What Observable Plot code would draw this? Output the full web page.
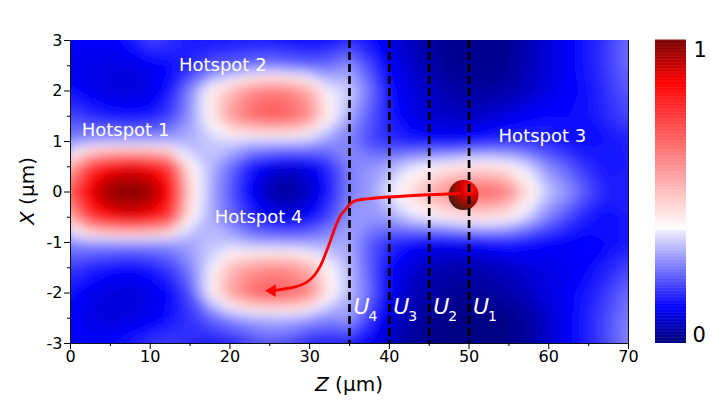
<!DOCTYPE html>
<html><head><meta charset="utf-8">
<script src="https://cdn.jsdelivr.net/npm/d3@7"></script>
<script src="https://cdn.jsdelivr.net/npm/@observablehq/plot@0.6"></script>
<style>
body{margin:0;background:#fff;font-family:"DejaVu Sans",sans-serif;}
#wrap{position:relative;width:711px;height:408px;overflow:hidden;}
#main{position:absolute;left:0;top:0;}
#cbar{position:absolute;left:640px;top:0;}
</style></head><body>
<div id="wrap"><div id="main"></div><div id="cbar"></div></div>
<script>
// ---- grid of normalized intensity ----
const zGrid = [0,2.5,5,7.5,10,12.5,15,17.5,20,22.5,25,27.5,30,32.5,35,37.5,40,42.5,45,47.5,50,52.5,55,57.5,60,62.5,65,67.5,70];
const xGrid = [3,2.5,2,1.5,1,0.5,0,-0.5,-1,-1.5,-2,-2.5,-3];
const rowP30 = [0.12,0.12,0.12,0.15,0.20,0.18,0.15,0.14,0.15,0.15,0.15,0.14,0.13,0.14,0.17,0.14,0.10,0.07,0.04,0.02,0.02,0.02,0.03,0.06,0.09,0.12,0.15,0.19,0.24];
const rowP25 = [0.11,0.10,0.10,0.10,0.11,0.13,0.17,0.21,0.22,0.24,0.25,0.24,0.23,0.24,0.28,0.20,0.12,0.08,0.05,0.03,0.02,0.02,0.03,0.06,0.09,0.12,0.15,0.19,0.24];
const rowP20 = [0.14,0.11,0.09,0.09,0.10,0.15,0.27,0.41,0.51,0.60,0.64,0.62,0.54,0.38,0.34,0.25,0.14,0.10,0.07,0.05,0.04,0.04,0.05,0.07,0.10,0.12,0.14,0.18,0.22];
const rowP15 = [0.20,0.17,0.15,0.14,0.15,0.19,0.28,0.41,0.57,0.66,0.70,0.68,0.60,0.41,0.30,0.22,0.15,0.11,0.08,0.07,0.07,0.08,0.10,0.12,0.13,0.13,0.14,0.17,0.20];
const rowP10 = [0.27,0.29,0.30,0.30,0.30,0.30,0.31,0.34,0.35,0.33,0.33,0.33,0.32,0.28,0.26,0.20,0.17,0.15,0.14,0.13,0.14,0.16,0.17,0.17,0.16,0.14,0.13,0.14,0.16];
const rowP05 = [0.54,0.76,0.86,0.89,0.86,0.76,0.41,0.32,0.24,0.15,0.10,0.08,0.10,0.17,0.26,0.28,0.31,0.36,0.39,0.42,0.44,0.44,0.41,0.35,0.27,0.22,0.17,0.14,0.15];
const row000 = [0.70,0.90,0.99,1.00,0.98,0.86,0.46,0.31,0.22,0.12,0.05,0.03,0.07,0.15,0.26,0.29,0.37,0.45,0.54,0.62,0.67,0.68,0.62,0.44,0.33,0.28,0.21,0.16,0.16];
const rowN05 = [0.54,0.76,0.86,0.89,0.86,0.76,0.41,0.31,0.24,0.17,0.12,0.10,0.13,0.20,0.28,0.28,0.30,0.35,0.38,0.41,0.44,0.44,0.41,0.34,0.26,0.20,0.15,0.13,0.15];
const rowN10 = [0.27,0.28,0.28,0.28,0.28,0.28,0.30,0.33,0.33,0.30,0.29,0.29,0.29,0.30,0.30,0.22,0.17,0.14,0.12,0.12,0.12,0.14,0.15,0.14,0.13,0.12,0.12,0.13,0.15];
const rowN15 = [0.19,0.16,0.14,0.13,0.15,0.19,0.26,0.37,0.51,0.57,0.60,0.59,0.53,0.39,0.32,0.22,0.13,0.09,0.06,0.05,0.05,0.06,0.07,0.09,0.10,0.11,0.13,0.16,0.20];
const rowN20 = [0.14,0.11,0.09,0.09,0.10,0.13,0.21,0.39,0.56,0.66,0.70,0.68,0.62,0.42,0.32,0.24,0.12,0.07,0.05,0.03,0.03,0.04,0.05,0.07,0.10,0.12,0.15,0.19,0.24];
const rowN25 = [0.12,0.10,0.09,0.10,0.11,0.14,0.18,0.23,0.27,0.30,0.31,0.31,0.29,0.27,0.29,0.19,0.09,0.05,0.03,0.02,0.01,0.01,0.02,0.04,0.08,0.12,0.16,0.21,0.26];
const rowN30 = [0.12,0.12,0.13,0.15,0.18,0.19,0.17,0.15,0.16,0.19,0.22,0.20,0.16,0.15,0.16,0.12,0.07,0.04,0.02,0.01,0.01,0.01,0.02,0.04,0.08,0.12,0.16,0.21,0.27];
const intensityRows = [rowP30,rowP25,rowP20,rowP15,rowP10,rowP05,row000,rowN05,rowN10,rowN15,rowN20,rowN25,rowN30];

// ---- colour map ----
const colorStops = [0, 0.12, 0.37, 0.375, 0.86, 1];
const colorRange = ["#00007a", "#0000ff", "#ececff", "#ffffff", "#ff0000", "#780000"];

// ---- ticks ----
const zTicks = [0,10,20,30,40,50,60,70];
const zMinor = [5,15,25,35,45,55,65];
const xTicks = [-3,-2,-1,0,1,2,3];
const xMinor = [-2.5,-1.5,-0.5,0.5,1.5,2.5];

// ---- annotations ----
const uLineZ = [35,40,45,50];
const uSubs = ["4","3","2","1"];
const uLabelX = -2.27;
const hotspotNames = ["Hotspot 1","Hotspot 2","Hotspot 3","Hotspot 4"];
const hotspotZ = [6.9, 19.1, 59.2, 23.6];
const hotspotX = [1.22, 2.52, 1.10, -0.49];
const trajZ = [48.7, 35.8, 35.2, 34.6, 33.9, 33.2, 32.6, 32.0, 31.4, 30.6, 29.6, 28.2, 26.8, 25.6];
const trajX = [-0.03, -0.17, -0.22, -0.33, -0.46, -0.70, -0.97, -1.22, -1.45, -1.65, -1.79, -1.88, -1.92, -1.95];
const arrowHead = {z: 25.3, x: -1.955};
const particle = {z: 49.3, x: -0.06};

const values = intensityRows.flat();
const dz = zGrid[1] - zGrid[0], dxg = xGrid[0] - xGrid[1];
const colorScale = {type: "linear", domain: colorStops, range: colorRange, interpolate: "rgb", clamp: true};

const uData = uLineZ.map((z, i) => ({z, x: uLabelX, sub: uSubs[i]}));
const hsData = hotspotNames.map((t, i) => ({t, z: hotspotZ[i], x: hotspotX[i]}));
const traj = trajZ.map((z, i) => ({z, x: trajX[i]}));

const M = {left: 70, right: 12, top: 40, bottom: 65, width: 640, height: 408};

const main = Plot.plot({
  width: M.width, height: M.height,
  marginLeft: M.left, marginRight: M.right, marginTop: M.top, marginBottom: M.bottom,
  style: {fontFamily: "DejaVu Sans, sans-serif", fontSize: "16px", color: "black", background: "white"},
  x: {domain: [0, 70], label: null},
  y: {domain: [-3, 3], label: null},
  color: colorScale,
  marks: [
    Plot.contour(values, {
      width: zGrid.length, height: xGrid.length,
      x1: zGrid[0] - dz / 2, x2: zGrid[zGrid.length - 1] + dz / 2,
      y1: xGrid[0] + dxg / 2, y2: xGrid[xGrid.length - 1] - dxg / 2,
      thresholds: d3.range(0, 1.0001, 0.01),
      fill: Plot.identity, stroke: "none"
    }),
    Plot.dot([particle], {x: "z", y: "x", r: 15, fill: "url(#sphereGrad)", stroke: "none"}),
    Plot.ruleX(uLineZ, {stroke: "black", strokeWidth: 2.7, strokeDasharray: "8,4"}),
    Plot.line(traj, {x: "z", y: "x", stroke: "#ff0000", strokeWidth: 2.8, curve: "catmull-rom"}),
    Plot.dot([arrowHead], {x: "z", y: "x", symbol: "triangle", rotate: -90, r: 4.6, fill: "#ff0000", stroke: "none"}),
    Plot.text(hsData, {x: "z", y: "x", text: "t", fill: "white", fontSize: 18}),
    Plot.text(uData, {x: "z", y: "x", text: () => "U", dx: 4, textAnchor: "start", fill: "white", fontSize: 22, fontStyle: "italic"}),
    Plot.text(uData, {x: "z", y: "x", text: "sub", dx: 19, dy: 10, textAnchor: "start", fill: "white", fontSize: 14}),
    Plot.ruleX([0, 70], {stroke: "#111", strokeWidth: 1}),
    Plot.ruleY([-3], {stroke: "#111", strokeWidth: 1}),
    Plot.axisX({ticks: zTicks, tickSize: 6, tickPadding: 1, fontSize: 16, label: null, tickFormat: d => String(d)}),
    Plot.axisX({ticks: zMinor, tickSize: 3, tickFormat: () => "", label: null}),
    Plot.axisY({ticks: xTicks, tickSize: 6, tickPadding: 2, fontSize: 16, label: null, tickFormat: d => String(d)}),
    Plot.axisY({ticks: xMinor, tickSize: 3, tickFormat: () => "", label: null})
  ]
});

const svgSel = d3.select(main);
const defs = svgSel.insert("defs", ":first-child");
// sphere gradient
const grad = defs.append("radialGradient").attr("id", "sphereGrad")
  .attr("cx", "0.68").attr("cy", "0.32").attr("r", "0.78").attr("fx", "0.72").attr("fy", "0.28");
grad.append("stop").attr("offset", "0").attr("stop-color", "#ff2418");
grad.append("stop").attr("offset", "0.35").attr("stop-color", "#dd0000");
grad.append("stop").attr("offset", "0.75").attr("stop-color", "#7a140a");
grad.append("stop").attr("offset", "1").attr("stop-color", "#3a1c16");
// smoothing filter for the rendered field (visual only) + frame clip
const filt = defs.append("filter").attr("id", "fieldSmooth")
  .attr("x", "-10%").attr("y", "-10%").attr("width", "120%").attr("height", "120%");
filt.append("feGaussianBlur").attr("stdDeviation", "6");
const ct = filt.append("feComponentTransfer");
ct.append("feFuncA").attr("type", "table").attr("tableValues", "1 1");
defs.append("clipPath").attr("id", "frameClip").append("rect")
  .attr("x", M.left).attr("y", M.top)
  .attr("width", M.width - M.left - M.right).attr("height", M.height - M.top - M.bottom);
const fieldG = svgSel.select('g[aria-label="contour"]');
if (!fieldG.empty()) {
  const node = fieldG.node();
  const wrapper = document.createElementNS("http://www.w3.org/2000/svg", "g");
  wrapper.setAttribute("clip-path", "url(#frameClip)");
  node.parentNode.insertBefore(wrapper, node);
  wrapper.appendChild(node);
  node.setAttribute("filter", "url(#fieldSmooth)");
}

// axis titles with italic variable
const xt = svgSel.append("text").attr("x", 349).attr("y", 391).attr("text-anchor", "middle")
  .attr("font-size", 20).attr("fill", "black").attr("font-family", "DejaVu Sans, sans-serif");
xt.append("tspan").attr("font-style", "italic").text("Z");
xt.append("tspan").text(" (μm)");
const yt = svgSel.append("text").attr("transform", "translate(34,191) rotate(-90)").attr("text-anchor", "middle")
  .attr("font-size", 20).attr("fill", "black").attr("font-family", "DejaVu Sans, sans-serif");
yt.append("tspan").attr("font-style", "italic").text("X");
yt.append("tspan").text(" (μm)");

document.getElementById("main").appendChild(main);

// ---- colour bar ----
const cbStep = 0.0025;
const cbSteps = d3.range(0, 1, cbStep);
const cbar = Plot.plot({
  width: 71, height: 408,
  marginLeft: 15, marginRight: 25, marginTop: 40, marginBottom: 65,
  style: {fontFamily: "DejaVu Sans, sans-serif", background: "white"},
  x: {domain: [0, 1], axis: null},
  y: {domain: [0, 1], axis: null},
  color: colorScale,
  marks: [
    Plot.rect(cbSteps, {x1: 0, x2: 1, y1: d => d, y2: d => d + cbStep * 1.6, fill: d => d + cbStep / 2}),
    Plot.text(["1"], {x: 1, y: 1, text: d => d, dx: 7, dy: 2, textAnchor: "start", lineAnchor: "top", fontSize: 21, fill: "black"}),
    Plot.text(["0"], {x: 1, y: 0, text: d => d, dx: 6, dy: -2, textAnchor: "start", lineAnchor: "bottom", fontSize: 21, fill: "black"})
  ]
});
document.getElementById("cbar").appendChild(cbar);
</script>
</body></html>
